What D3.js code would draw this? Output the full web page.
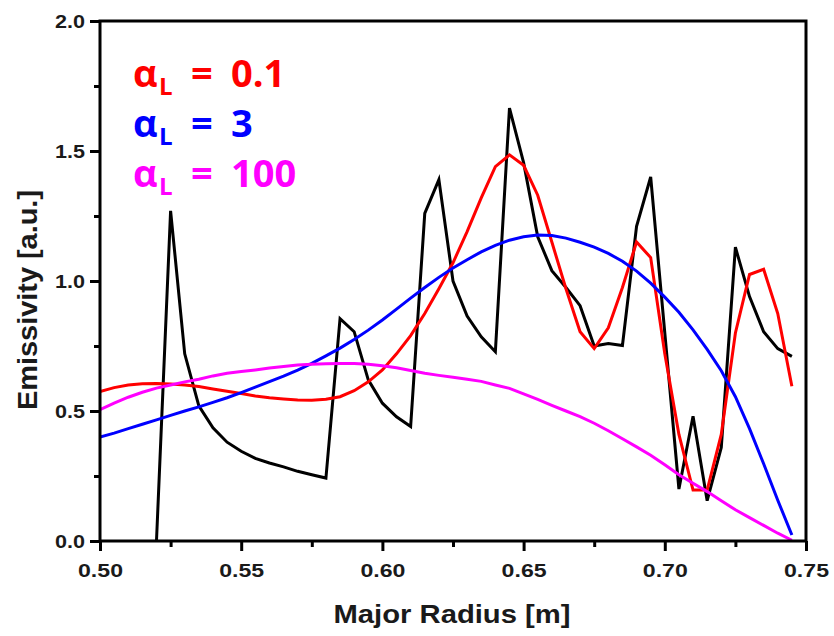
<!DOCTYPE html>
<html>
<head>
<meta charset="utf-8">
<script src="https://cdn.jsdelivr.net/npm/d3@7"></script>
<style>
  html, body { margin: 0; padding: 0; background: #fff; }
  svg { display: block; }
</style>
</head>
<body>
<svg id="chart" width="834" height="636"></svg>
<script>
// Major radius sample points [m]
const radiusFull = [0.500, 0.505, 0.510, 0.515, 0.520, 0.525, 0.530, 0.535, 0.540, 0.545,
                    0.550, 0.555, 0.560, 0.565, 0.570, 0.575, 0.580, 0.585, 0.590, 0.595,
                    0.600, 0.605, 0.610, 0.615, 0.620, 0.625, 0.630, 0.635, 0.640, 0.645,
                    0.650, 0.655, 0.660, 0.665, 0.670, 0.675, 0.680, 0.685, 0.690, 0.695,
                    0.700, 0.705, 0.710, 0.715, 0.720, 0.725, 0.730, 0.735, 0.740, 0.745];
const radiusPhantom = [0.520, 0.525, 0.530, 0.535, 0.540, 0.545,
                    0.550, 0.555, 0.560, 0.565, 0.570, 0.575, 0.580, 0.585, 0.590, 0.595,
                    0.600, 0.605, 0.610, 0.615, 0.620, 0.625, 0.630, 0.635, 0.640, 0.645,
                    0.650, 0.655, 0.660, 0.665, 0.670, 0.675, 0.680, 0.685, 0.690, 0.695,
                    0.700, 0.705, 0.710, 0.715, 0.720, 0.725, 0.730, 0.735, 0.740, 0.745];

// Phantom emissivity profile (black)
const phantom = [0.00, 1.27, 0.72, 0.52, 0.435, 0.38,
                 0.345, 0.318, 0.300, 0.285, 0.268, 0.255, 0.242, 0.855, 0.805, 0.62,
                 0.53, 0.478, 0.44, 1.26, 1.39, 1.00, 0.865, 0.785, 0.728, 1.665,
                 1.455, 1.17, 1.04, 0.975, 0.905, 0.75, 0.76, 0.752, 1.21, 1.40,
                 0.80, 0.20, 0.48, 0.155, 0.36, 1.13, 0.94, 0.805, 0.74, 0.71];

// Reconstructions for each regularisation parameter
const alpha01 = [0.575, 0.590, 0.600, 0.605, 0.606, 0.604, 0.600, 0.594, 0.585, 0.576,
                 0.567, 0.558, 0.551, 0.546, 0.542, 0.541, 0.545, 0.555, 0.578, 0.612,
                 0.658, 0.720, 0.790, 0.875, 0.970, 1.070, 1.190, 1.320, 1.440, 1.485,
                 1.445, 1.330, 1.150, 0.970, 0.805, 0.740, 0.820, 0.975, 1.150, 1.090,
                 0.720, 0.410, 0.196, 0.196, 0.410, 0.800, 1.025, 1.045, 0.875, 0.595];
const alpha3 = [0.400, 0.415, 0.432, 0.449, 0.466, 0.483, 0.500, 0.516, 0.533, 0.551,
                0.571, 0.592, 0.613, 0.634, 0.657, 0.683, 0.712, 0.742, 0.775, 0.811,
                0.850, 0.892, 0.934, 0.975, 1.014, 1.050, 1.082, 1.112, 1.137, 1.157,
                1.170, 1.177, 1.175, 1.165, 1.149, 1.130, 1.106, 1.076, 1.038, 0.992,
                0.938, 0.880, 0.812, 0.737, 0.655, 0.555, 0.432, 0.297, 0.157, 0.023];
const alpha100 = [0.505, 0.530, 0.553, 0.572, 0.588, 0.600, 0.612, 0.622, 0.635, 0.645,
                  0.652, 0.658, 0.665, 0.671, 0.677, 0.680, 0.682, 0.683, 0.683, 0.680,
                  0.674, 0.666, 0.656, 0.645, 0.637, 0.630, 0.622, 0.614, 0.600, 0.587,
                  0.566, 0.545, 0.522, 0.500, 0.478, 0.453, 0.424, 0.393, 0.362, 0.330,
                  0.293, 0.255, 0.222, 0.190, 0.155, 0.120, 0.090, 0.060, 0.030, 0.003];

const legendLabels = ["0.1", "3", "100"];
const legendColors = ["#ff0000", "#0000ff", "#ff00ff"];
const xTicks = [0.50, 0.55, 0.60, 0.65, 0.70, 0.75];
const xMinorTicks = [0.525, 0.575, 0.625, 0.675, 0.725];
const yTicks = [0.0, 0.5, 1.0, 1.5, 2.0];
const yMinorTicks = [0.25, 0.75, 1.25, 1.75];
const xTitle = "Major Radius [m]";
const yTitle = "Emissivity [a.u.]";

const svg = d3.select("#chart");
const plotLeft = 100, plotRight = 806, plotTop = 21, plotBottom = 541;

const x = d3.scaleLinear().domain([0.50, 0.75]).range([plotLeft, plotRight]);
const y = d3.scaleLinear().domain([0, 2.0]).range([plotBottom, plotTop]);

svg.append("clipPath").attr("id", "plotclip")
  .append("rect").attr("x", plotLeft).attr("y", plotTop)
  .attr("width", plotRight - plotLeft).attr("height", plotBottom - plotTop);

const line = d3.line().x(d => x(d[0])).y(d => y(d[1]));
const series = [
  { r: radiusPhantom, v: phantom, color: "#000000" },
  { r: radiusFull, v: alpha01, color: legendColors[0] },
  { r: radiusFull, v: alpha3, color: legendColors[1] },
  { r: radiusFull, v: alpha100, color: legendColors[2] }
];
const curves = svg.append("g").attr("clip-path", "url(#plotclip)");
series.forEach(s => {
  curves.append("path")
    .datum(s.r.map((r, i) => [r, s.v[i]]))
    .attr("d", line)
    .attr("fill", "none")
    .attr("stroke", s.color)
    .attr("stroke-width", 3)
    .attr("stroke-linejoin", "miter")
    .attr("stroke-miterlimit", 4);
});

// Axes
const axisStyle = g => {
  g.select(".domain").remove();
  g.selectAll(".tick line").attr("stroke", "#000").attr("stroke-width", 3);
};
const xAxis = svg.append("g").attr("transform", `translate(0,${plotBottom})`)
  .call(d3.axisBottom(x).tickValues(xTicks).tickSize(10).tickFormat(d3.format(".2f")))
  .call(axisStyle);
svg.append("g").attr("transform", `translate(0,${plotBottom})`)
  .call(d3.axisBottom(x).tickValues(xMinorTicks).tickSize(6).tickFormat(""))
  .call(axisStyle);
const yAxis = svg.append("g").attr("transform", `translate(${plotLeft},0)`)
  .call(d3.axisLeft(y).tickValues(yTicks).tickSize(10).tickFormat(d3.format(".1f")))
  .call(axisStyle);
svg.append("g").attr("transform", `translate(${plotLeft},0)`)
  .call(d3.axisLeft(y).tickValues(yMinorTicks).tickSize(6).tickFormat(""))
  .call(axisStyle);

xAxis.selectAll(".tick text")
  .attr("y", 0).attr("dy", 0)
  .attr("transform", "translate(0,36)")
  .attr("font-family", "'Liberation Sans', Arial, sans-serif")
  .attr("font-weight", "bold").attr("font-size", 19)
  .attr("fill", "#1a1a1a")
  .attr("textLength", 45).attr("lengthAdjust", "spacingAndGlyphs");
yAxis.selectAll(".tick text")
  .attr("x", -15).attr("dy", 0)
  .attr("transform", "translate(0,6.5)")
  .attr("font-family", "'Liberation Sans', Arial, sans-serif")
  .attr("font-weight", "bold").attr("font-size", 19)
  .attr("fill", "#1a1a1a")
  .attr("textLength", 30).attr("lengthAdjust", "spacingAndGlyphs");

// Frame
svg.append("rect")
  .attr("x", plotLeft).attr("y", plotTop)
  .attr("width", plotRight - plotLeft).attr("height", plotBottom - plotTop)
  .attr("fill", "none").attr("stroke", "#000").attr("stroke-width", 3);

// Axis titles
svg.append("text")
  .attr("x", 452).attr("y", 623)
  .attr("text-anchor", "middle")
  .attr("font-family", "'Liberation Sans', Arial, sans-serif")
  .attr("font-weight", "bold").attr("font-size", 25)
  .attr("fill", "#1a1a1a")
  .attr("textLength", 237).attr("lengthAdjust", "spacingAndGlyphs")
  .text(xTitle);
svg.append("text")
  .attr("transform", "translate(37,300) rotate(-90)")
  .attr("text-anchor", "middle")
  .attr("font-family", "'Liberation Sans', Arial, sans-serif")
  .attr("font-weight", "bold").attr("font-size", 28)
  .attr("fill", "#1a1a1a")
  .attr("textLength", 220).attr("lengthAdjust", "spacingAndGlyphs")
  .text(yTitle);

// Legend
const legend = svg.append("g")
  .attr("font-family", "'Open Sans', 'Noto Sans', sans-serif")
  .attr("font-weight", "bold");
legendLabels.forEach((lab, i) => {
  const base = 87 + i * 50;
  const g = legend.append("g").attr("fill", legendColors[i]);
  g.append("text").attr("x", 133).attr("y", base).attr("font-size", 38).text("α");
  g.append("text").attr("x", 159).attr("y", base + 8).attr("font-size", 24).text("L");
  g.append("text").attr("x", 191).attr("y", base).attr("font-size", 38).text("=");
  g.append("text").attr("x", 231).attr("y", base).attr("font-size", 38).text(lab);
});
</script>
</body>
</html>
